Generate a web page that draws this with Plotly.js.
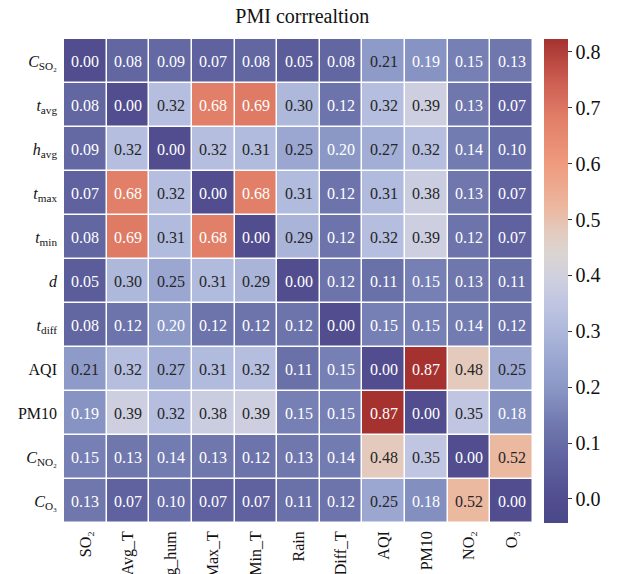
<!DOCTYPE html>
<html>
<head>
<meta charset="utf-8">
<script src="https://cdn.plot.ly/plotly-3.0.1.min.js"></script>
<style>html,body{margin:0;padding:0;background:#fff;}#chart{width:626px;height:574px;}</style>
</head>
<body>
<div id="chart"></div>
<script>
const xLabels = ["SO₂", "Avg_T", "Avg_hum", "Max_T", "Min_T", "Rain", "Diff_T", "AQI", "PM10", "NO₂", "O₃"];
const yLabels = ["<i>C</i><sub>SO₂</sub>", "<i>t</i><sub>avg</sub>", "<i>h</i><sub>avg</sub>", "<i>t</i><sub>max</sub>", "<i>t</i><sub>min</sub>", "<i>d</i>", "<i>t</i><sub>diff</sub>", "AQI", "PM10", "<i>C</i><sub>NO₂</sub>", "<i>C</i><sub>O₃</sub>"];

const rowSO2  = [0.00, 0.08, 0.09, 0.07, 0.08, 0.05, 0.08, 0.21, 0.19, 0.15, 0.13];
const rowTavg = [0.08, 0.00, 0.32, 0.68, 0.69, 0.30, 0.12, 0.32, 0.39, 0.13, 0.07];
const rowHavg = [0.09, 0.32, 0.00, 0.32, 0.31, 0.25, 0.20, 0.27, 0.32, 0.14, 0.10];
const rowTmax = [0.07, 0.68, 0.32, 0.00, 0.68, 0.31, 0.12, 0.31, 0.38, 0.13, 0.07];
const rowTmin = [0.08, 0.69, 0.31, 0.68, 0.00, 0.29, 0.12, 0.32, 0.39, 0.12, 0.07];
const rowD    = [0.05, 0.30, 0.25, 0.31, 0.29, 0.00, 0.12, 0.11, 0.15, 0.13, 0.11];
const rowTdiff= [0.08, 0.12, 0.20, 0.12, 0.12, 0.12, 0.00, 0.15, 0.15, 0.14, 0.12];
const rowAQI  = [0.21, 0.32, 0.27, 0.31, 0.32, 0.11, 0.15, 0.00, 0.87, 0.48, 0.25];
const rowPM10 = [0.19, 0.39, 0.32, 0.38, 0.39, 0.15, 0.15, 0.87, 0.00, 0.35, 0.18];
const rowNO2  = [0.15, 0.13, 0.14, 0.13, 0.12, 0.13, 0.14, 0.48, 0.35, 0.00, 0.52];
const rowO3   = [0.13, 0.07, 0.10, 0.07, 0.07, 0.11, 0.12, 0.25, 0.18, 0.52, 0.00];

const zRows = [rowSO2, rowTavg, rowHavg, rowTmax, rowTmin, rowD, rowTdiff, rowAQI, rowPM10, rowNO2, rowO3];

const FONT = "Liberation Serif";
const zMin = -0.043, zMax = 0.823;
function frac(v){ return (v - zMin) / (zMax - zMin); }
const colorscale = [
  [0, "#4b4889"],
  [frac(0.00), "#514d8e"],
  [frac(0.07), "#5f629f"],
  [frac(0.13), "#6f77ad"],
  [frac(0.20), "#8b98c6"],
  [frac(0.25), "#9ba7d1"],
  [frac(0.31), "#b1bbdd"],
  [frac(0.35), "#c0c5e1"],
  [frac(0.39), "#cdcfe0"],
  [frac(0.44), "#dbd5d2"],
  [frac(0.48), "#e4cabd"],
  [frac(0.52), "#ebb8a0"],
  [frac(0.60), "#ef9a7e"],
  [frac(0.68), "#e27f69"],
  [frac(0.75), "#cb5c50"],
  [1, "#a5322f"]
];

const annotations = [];
zRows.forEach((row, i) => {
  row.forEach((v, j) => {
    const white = (v < 0.205 || v > 0.6);
    annotations.push({
      x: xLabels[j], y: yLabels[i], xref: "x", yref: "y",
      text: v.toFixed(2), showarrow: false,
      font: {family: FONT, size: 16, color: white ? "#ffffff" : "#262626"}
    });
  });
});

const trace = {
  type: "heatmap",
  z: zRows, x: xLabels, y: yLabels,
  zmin: zMin, zmax: zMax,
  colorscale: colorscale,
  xgap: 1.5, ygap: 1.5,
  hoverinfo: "skip",
  colorbar: {
    x: 1.0235, xanchor: "left", xpad: 0,
    y: 0.5, yanchor: "middle", ypad: 0,
    len: 484, lenmode: "pixels",
    thickness: 24, thicknessmode: "pixels",
    outlinewidth: 0,
    tickvals: [0.0, 0.1, 0.2, 0.3, 0.4, 0.5, 0.6, 0.7, 0.8],
    ticktext: ["0.0", "0.1", "0.2", "0.3", "0.4", "0.5", "0.6", "0.7", "0.8"],
    ticks: "outside", ticklen: 4, tickwidth: 1, tickcolor: "#333",
    tickfont: {family: FONT, size: 20, color: "#111"}
  }
};

const layout = {
  width: 626, height: 574,
  margin: {l: 64, r: 93, t: 39, b: 51, pad: 0},
  paper_bgcolor: "#ffffff", plot_bgcolor: "#ffffff",
  title: {
    text: "PMI corrrealtion",
    x: 318 / 626, xref: "paper", xanchor: "center",
    y: 1 - 16 / 574, yref: "container", yanchor: "middle",
    font: {family: FONT, size: 20, color: "#111"}
  },
  xaxis: {
    type: "category", tickangle: -90, ticks: "", showgrid: false, zeroline: false,
    automargin: false, side: "bottom", ticklabelstandoff: 4,
    tickfont: {family: FONT, size: 16, color: "#111"}
  },
  yaxis: {
    type: "category", autorange: "reversed", ticks: "", showgrid: false, zeroline: false,
    automargin: false, ticklabelstandoff: 6,
    tickfont: {family: FONT, size: 16, color: "#111"}
  },
  annotations: annotations,
  showlegend: false
};

Plotly.newPlot("chart", [trace], layout, {displayModeBar: false, staticPlot: true});
</script>
</body>
</html>
